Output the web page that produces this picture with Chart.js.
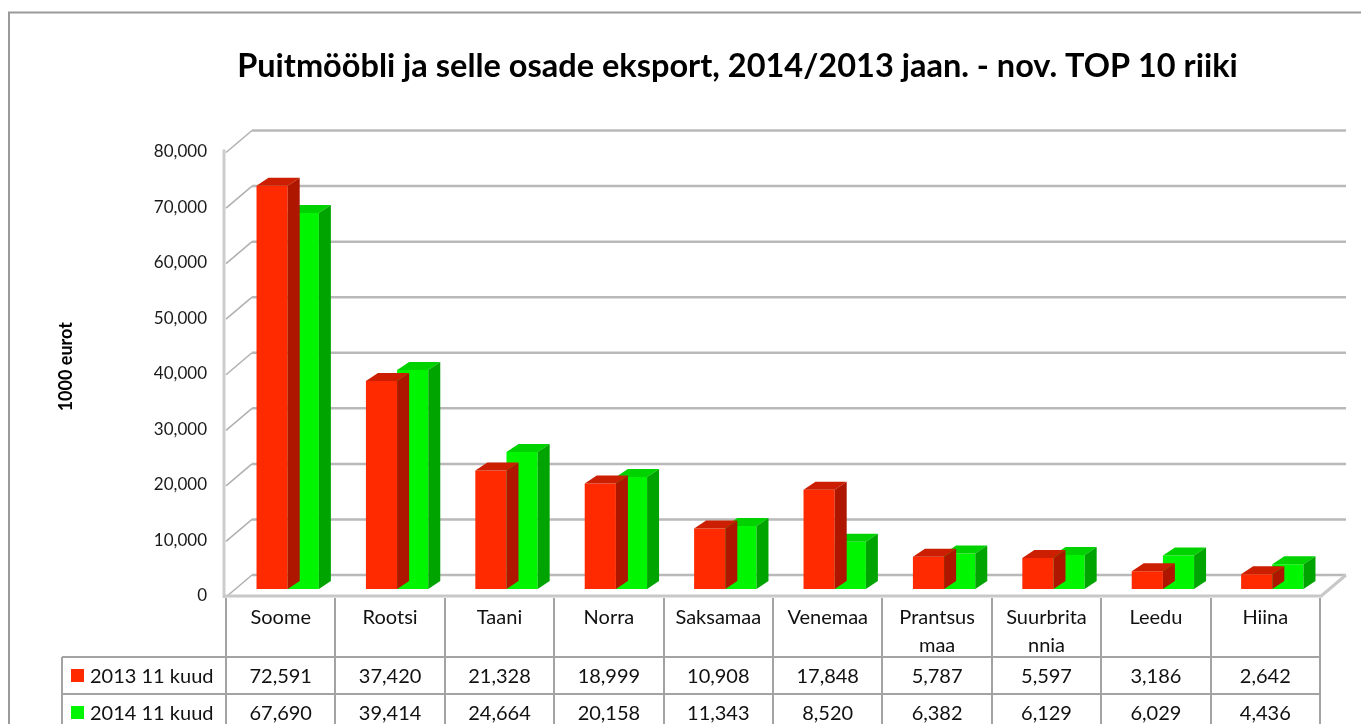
<!DOCTYPE html>
<html><head><meta charset="utf-8">
<script src="https://cdn.jsdelivr.net/npm/chart.js@4.4.0/dist/chart.umd.min.js"></script>
<style>html,body{margin:0;padding:0;background:#fff;overflow:hidden}</style>
</head><body>
<canvas id="c" width="1361" height="724"></canvas>
<script>
const chartTitle = 'Puitmööbli ja selle osade eksport, 2014/2013 jaan. - nov. TOP 10 riiki';
const yTitle = '1000 eurot';
const categories = ['Soome','Rootsi','Taani','Norra','Saksamaa','Venemaa','Prantsusmaa','Suurbritannia','Leedu','Hiina'];
const tableLabels = [['Soome'],['Rootsi'],['Taani'],['Norra'],['Saksamaa'],['Venemaa'],['Prantsus','maa'],['Suurbrita','nnia'],['Leedu'],['Hiina']];
const seriesNames = ['2013 11 kuud','2014 11 kuud'];
const values2013 = [72591,37420,21328,18999,10908,17848,5787,5597,3186,2642];
const values2014 = [67690,39414,24664,20158,11343,8520,6382,6129,6029,4436];
const yTicks = [0,10000,20000,30000,40000,50000,60000,70000,80000];

const FONT = 'Lato';
const FRONT = {dx:-7, dy:8}, BACK = {dx:19, dy:-14}, BAR_D = {dx:12, dy:-8};
const fmt = v => v.toLocaleString('en-US');

const wallPlugin = {
  id:'wall',
  beforeDraw(chart){
    const ctx = chart.ctx;
    ctx.save();
    ctx.fillStyle='#fff'; ctx.fillRect(0,0,chart.width,chart.height);
    ctx.strokeStyle='#9a9a9a'; ctx.lineWidth=2;
    ctx.strokeRect(9,12.5,1500,900);
    ctx.restore();
  },
  beforeDatasetsDraw(chart){
    const {ctx, chartArea:a, scales:{y}} = chart;
    const y0 = y.getPixelForValue(0), yTop = y.getPixelForValue(yTicks[yTicks.length-1]);
    ctx.save();
    ctx.lineCap='butt';
    ctx.strokeStyle='#cdcdcd'; ctx.lineWidth=3;
    ctx.beginPath(); ctx.moveTo(a.left+FRONT.dx-2, yTop+FRONT.dy-3); ctx.lineTo(a.left+FRONT.dx-2, y0+FRONT.dy+1); ctx.stroke();
    yTicks.forEach(v=>{
      const yp = y.getPixelForValue(v);
      ctx.strokeStyle='#b9b9b9'; ctx.lineWidth=2.5;
      ctx.beginPath(); ctx.moveTo(a.left+BACK.dx, yp+BACK.dy); ctx.lineTo(a.right+BACK.dx, yp+BACK.dy); ctx.stroke();
      ctx.strokeStyle='#b0b0b0'; ctx.lineWidth=1.5;
      ctx.beginPath(); ctx.moveTo(a.left+FRONT.dx, yp+FRONT.dy); ctx.lineTo(a.left+BACK.dx, yp+BACK.dy); ctx.stroke();
    });
    ctx.strokeStyle='#c8c8c8'; ctx.lineWidth=3;
    ctx.beginPath(); ctx.moveTo(a.right+FRONT.dx, y0+FRONT.dy); ctx.lineTo(a.right+BACK.dx, y0+BACK.dy); ctx.stroke();
    ctx.beginPath(); ctx.moveTo(a.left+FRONT.dx-3, y0+FRONT.dy-1); ctx.lineTo(a.right+FRONT.dx, y0+FRONT.dy-1); ctx.stroke();
    ctx.restore();
  },
  afterDatasetDraw(chart, args){
    const ctx = chart.ctx;
    const ds = chart.data.datasets[args.index];
    ctx.save();
    args.meta.data.forEach(bar=>{
      const {x, y, base, width} = bar.getProps(['x','y','base','width'], true);
      const l = x - width/2, r = x + width/2;
      ctx.fillStyle = ds.topColor;
      ctx.beginPath(); ctx.moveTo(l,y); ctx.lineTo(l+BAR_D.dx,y+BAR_D.dy); ctx.lineTo(r+BAR_D.dx,y+BAR_D.dy); ctx.lineTo(r,y); ctx.closePath(); ctx.fill();
      ctx.fillStyle = ds.sideColor;
      ctx.beginPath(); ctx.moveTo(r,y); ctx.lineTo(r+BAR_D.dx,y+BAR_D.dy); ctx.lineTo(r+BAR_D.dx,base+BAR_D.dy); ctx.lineTo(r,base); ctx.closePath(); ctx.fill();
    });
    ctx.restore();
  },
  afterDraw(chart){
    const {ctx, chartArea:a, scales:{x, y}} = chart;
    const n = categories.length;
    const colW = (a.right - a.left)/n;
    const tl = a.left + FRONT.dx, tr = a.right + FRONT.dx;
    const top = y.getPixelForValue(0) + FRONT.dy;
    const hb = top + 60, r1 = hb + 37, r2 = r1 + 37;
    const legL = 62;
    ctx.save();
    ctx.strokeStyle='#a3a3a3'; ctx.lineWidth=2;
    for(let i=0;i<=n;i++){
      const xx = Math.round(tl + i*colW);
      ctx.beginPath(); ctx.moveTo(xx, top+1); ctx.lineTo(xx, r2); ctx.stroke();
    }
    [hb, r1, r2].forEach(yy=>{ ctx.beginPath(); ctx.moveTo(legL, yy); ctx.lineTo(tr, yy); ctx.stroke(); });
    ctx.beginPath(); ctx.moveTo(legL, hb); ctx.lineTo(legL, r2); ctx.stroke();
    ctx.fillStyle='#111'; ctx.font='20px '+FONT; ctx.textAlign='center'; ctx.textBaseline='middle';
    tableLabels.forEach((lines,i)=>{
      const cx = x.getPixelForValue(i) + FRONT.dx;
      lines.forEach((t,k)=> ctx.fillText(t, cx, top + 21 + k*28));
      ctx.fillText(fmt(values2013[i]), cx, (hb+r1)/2+1);
      ctx.fillText(fmt(values2014[i]), cx, (r1+r2)/2+1);
    });
    ctx.textAlign='left';
    [[(hb+r1)/2, 0],[(r1+r2)/2, 1]].forEach(([cy, k])=>{
      ctx.fillStyle = chart.data.datasets[k].backgroundColor;
      ctx.fillRect(71, cy-6.5, 13, 13);
      ctx.fillStyle='#111';
      ctx.fillText(seriesNames[k], 90, cy+1);
    });
    ctx.restore();
  }
};

function build(){
  new Chart(document.getElementById('c'), {
    type:'bar',
    data:{
      labels: categories,
      datasets:[
        {label:seriesNames[0], data:values2013, backgroundColor:'#FF2A00', topColor:'#CC1E00', sideColor:'#AE1600', borderWidth:0},
        {label:seriesNames[1], data:values2014, backgroundColor:'#00F600', topColor:'#00D200', sideColor:'#00A400', borderWidth:0}
      ]
    },
    options:{
      responsive:false, animation:false, devicePixelRatio:1,
      layout:{padding:{left:148, right:34, top:0, bottom:135}},
      plugins:{
        legend:{display:false}, tooltip:{enabled:false},
        title:{display:true, text:chartTitle, color:'#000', font:{family:FONT, size:32.5, weight:'bold', lineHeight:1.2}, padding:{top:47.5, bottom:58}}
      },
      datasets:{bar:{categoryPercentage:0.57, barPercentage:1.0}},
      scales:{
        x:{display:false},
        y:{
          min:0, max:80000,
          afterBuildTicks: s => { s.ticks = yTicks.map(v=>({value:v})); },
          afterFit: s => { s.width = 85; },
          grid:{display:false, drawTicks:false},
          border:{display:false},
          ticks:{color:'#1a1a1a', font:{family:FONT, size:17}, padding:26, labelOffset:7, callback:v=>fmt(v)},
          title:{display:true, text:yTitle, color:'#000', font:{family:FONT, size:18, weight:'bold', lineHeight:0.8}, padding:{top:-89,bottom:0}}
        }
      }
    },
    plugins:[wallPlugin]
  });
}
(document.fonts && document.fonts.load ? Promise.all([document.fonts.load('20px Lato'), document.fonts.load('bold 28px Lato')]) : Promise.resolve()).then(build, build);
</script>
</body></html>
